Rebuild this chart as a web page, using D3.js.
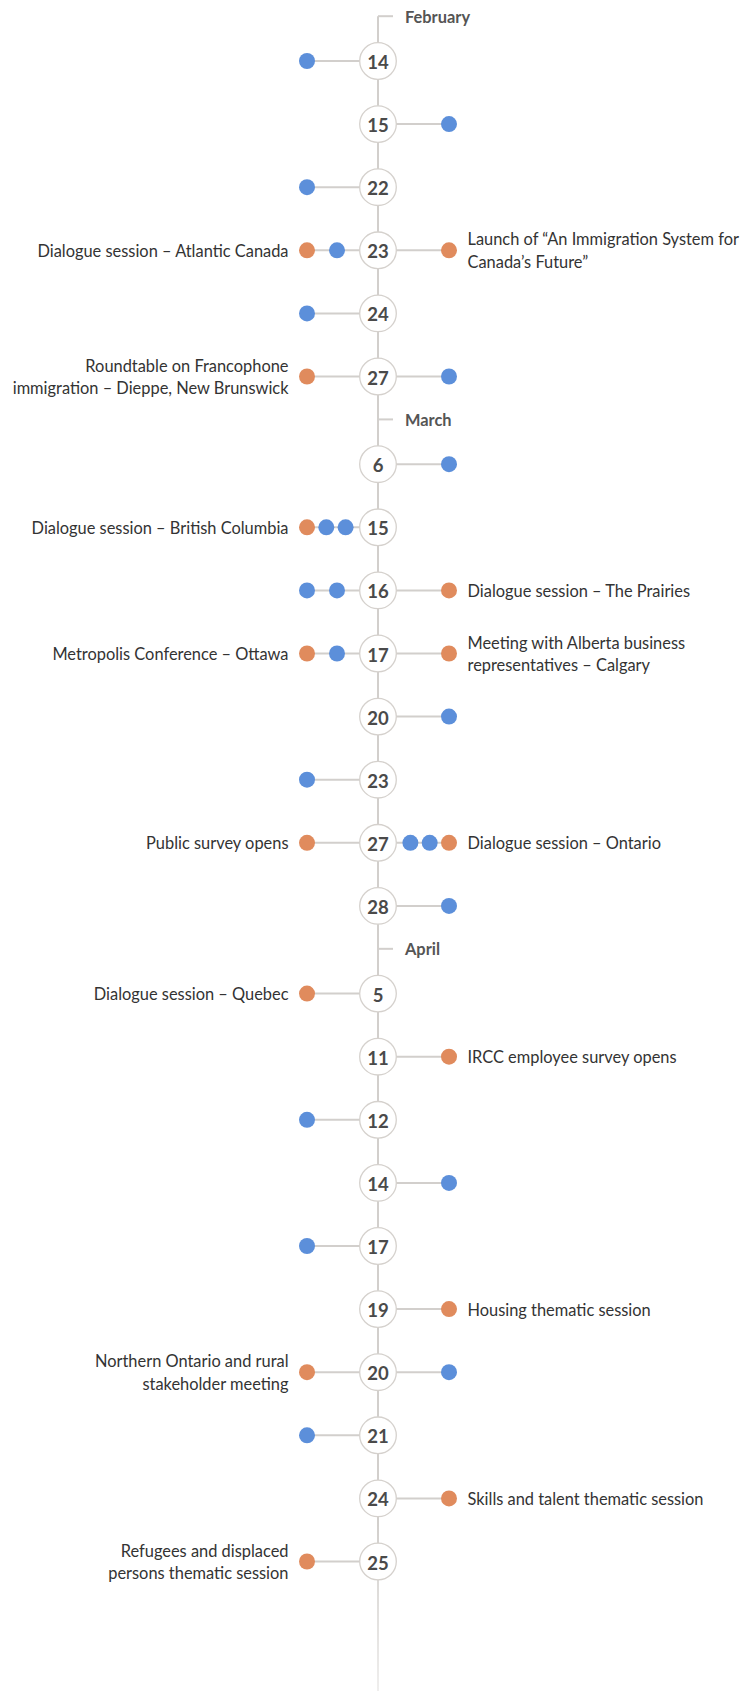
<!DOCTYPE html>
<html>
<head>
<meta charset="utf-8">
<script src="https://cdn.jsdelivr.net/npm/d3@7"></script>
<style>
  html, body { margin: 0; padding: 0; background: #fff; }
  svg { display: block; }
</style>
</head>
<body>
<svg id="chart" width="742" height="1691"></svg>
<script>
// ---------------- DATA ----------------
const months = ["February", "March", "April"];
const dates = [14, 15, 22, 23, 24, 27, 6, 15, 16, 17, 20, 23, 27, 28, 5, 11, 12, 14, 17, 19, 20, 21, 24, 25];
const dateMonth = [0, 0, 0, 0, 0, 0, 1, 1, 1, 1, 1, 1, 1, 1, 2, 2, 2, 2, 2, 2, 2, 2, 2, 2];
// dots on each side, listed from outermost to innermost; "o" = orange, "b" = blue
const leftDots = [
  ["b"], [], ["b"], ["o", "b"], ["b"], ["o"],
  [], ["o", "b", "b"], ["b", "b"], ["o", "b"], [], ["b"], ["o"], [],
  ["o"], [], ["b"], [], ["b"], [], ["o"], ["b"], [], ["o"]
];
const rightDots = [
  [], ["b"], [], ["o"], [], ["b"],
  ["b"], [], ["o"], ["o"], ["b"], [], ["o", "b", "b"], ["b"],
  [], ["o"], [], ["b"], [], ["o"], ["b"], [], ["o"], []
];
const leftLabels = [
  [], [], [], ["Dialogue session – Atlantic Canada"], [], ["Roundtable on Francophone", "immigration – Dieppe, New Brunswick"],
  [], ["Dialogue session – British Columbia"], [], ["Metropolis Conference – Ottawa"], [], [], ["Public survey opens"], [],
  ["Dialogue session – Quebec"], [], [], [], [], [], ["Northern Ontario and rural", "stakeholder meeting"], [], [], ["Refugees and displaced", "persons thematic session"]
];
const rightLabels = [
  [], [], [], ["Launch of “An Immigration System for", "Canada’s Future”"], [], [],
  [], [], ["Dialogue session – The Prairies"], ["Meeting with Alberta business", "representatives – Calgary"], [], [], ["Dialogue session – Ontario"], [],
  [], ["IRCC employee survey opens"], [], [], [], ["Housing thematic session"], [], [], ["Skills and talent thematic session"], []
];
const seriesColors = { o: "#e08b5d", b: "#5c8fda" };

// ---------------- LAYOUT ----------------
const W = 742, H = 1691;
const axisX = 378;
const monthGap = 0.39;     // extra slot space before each new month
const monthLabelLead = 0.71;

const svg = d3.select("#chart");

const rows = dates.map((d, i) => ({
  day: d,
  month: dateMonth[i],
  slot: i + dateMonth[i] * monthGap,
  left: leftDots[i],
  right: rightDots[i],
  leftLabel: leftLabels[i],
  rightLabel: rightLabels[i]
}));

const y = d3.scaleLinear().domain([0, 1]).range([61, 61 + 63.1]);

const monthRows = months.map((m, k) => {
  const first = rows.find(r => r.month === k);
  return { name: m, slot: first.slot - monthLabelLead };
});

// dot offset from axis: index 0 = outermost
function dotOffsets(n) {
  const step = n <= 2 ? 30 : 19.3;
  return d3.range(n).map(j => 71 - j * step);
}

// gradient for the axis fade at bottom
const defs = svg.append("defs");
const grad = defs.append("linearGradient")
  .attr("id", "axisFade").attr("gradientUnits", "userSpaceOnUse")
  .attr("x1", 0).attr("x2", 0).attr("y1", y(monthRows[0].slot)).attr("y2", H);
grad.append("stop").attr("offset", "0.9").attr("stop-color", "#d2cfcc");
grad.append("stop").attr("offset", "1").attr("stop-color", "#d2cfcc").attr("stop-opacity", 0.35);

const lineColor = "#d2cfcc";
const labelSize = 16.4;

// main axis
svg.append("line")
  .attr("x1", axisX).attr("x2", axisX)
  .attr("y1", y(monthRows[0].slot)).attr("y2", H)
  .attr("stroke", "url(#axisFade)").attr("stroke-width", 2);

// month ticks and labels
const mg = svg.append("g").selectAll("g").data(monthRows).join("g");
mg.append("line")
  .attr("x1", axisX).attr("x2", axisX + 15)
  .attr("y1", d => y(d.slot)).attr("y2", d => y(d.slot))
  .attr("stroke", lineColor).attr("stroke-width", 2);
mg.append("text")
  .attr("x", axisX + 27).attr("y", d => y(d.slot))
  .attr("dominant-baseline", "central")
  .attr("font-family", "Lato, sans-serif").attr("font-weight", 700)
  .attr("font-size", labelSize).attr("fill", "#555")
  .text(d => d.name);

// rows
const rg = svg.append("g").selectAll("g").data(rows).join("g")
  .attr("transform", d => `translate(0,${y(d.slot)})`);

// connector lines, dots and labels
["left", "right"].forEach(side => {
  const s = side === "left" ? -1 : 1;
  rg.filter(d => d[side].length > 0).append("line")
    .attr("x1", axisX).attr("x2", d => axisX + s * 71)
    .attr("y1", 0).attr("y2", 0)
    .attr("stroke", lineColor).attr("stroke-width", 2);

  rg.each(function(d) {
    const offs = dotOffsets(d[side].length);
    d3.select(this).selectAll("circle.dot-" + side)
      .data(d[side].map((c, j) => ({ c, off: offs[j] })))
      .join("circle")
      .attr("class", "dot-" + side)
      .attr("cx", e => axisX + s * e.off)
      .attr("cy", 0).attr("r", 8)
      .attr("fill", e => seriesColors[e.c]);

    const lines = side === "left" ? d.leftLabel : d.rightLabel;
    if (lines.length) {
      const lh = 22.7;
      const t = d3.select(this).append("text")
        .attr("x", axisX + s * (71 + 18.5))
        .attr("text-anchor", side === "left" ? "end" : "start")
        .attr("font-family", "Lato, sans-serif")
        .attr("font-size", labelSize).attr("fill", "#333");
      lines.forEach((ln, k) => {
        t.append("tspan")
          .attr("x", axisX + s * (71 + 18.5))
          .attr("y", (k - (lines.length - 1) / 2) * lh)
          .attr("dominant-baseline", "central")
          .text(ln);
      });
    }
  });
});

// date circles
rg.append("circle")
  .attr("cx", axisX).attr("cy", 0).attr("r", 18.3)
  .attr("fill", "#fff").attr("stroke", "#d5d1cd").attr("stroke-width", 1.3);
rg.append("text")
  .attr("x", axisX).attr("y", 1)
  .attr("text-anchor", "middle").attr("dominant-baseline", "central")
  .attr("font-family", "Lato, sans-serif").attr("font-weight", 700)
  .attr("font-size", 18.5).attr("fill", "#4a4a4a")
  .text(d => d.day);
</script>
</body>
</html>
